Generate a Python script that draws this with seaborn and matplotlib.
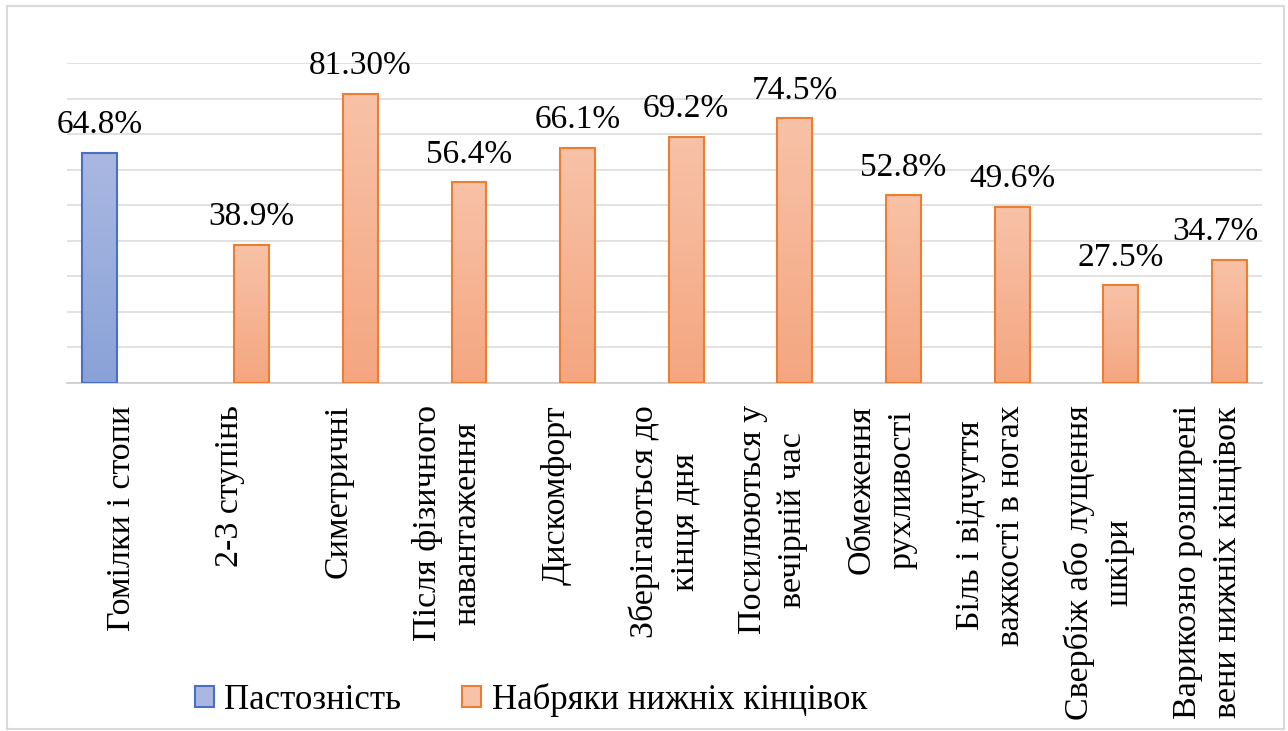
import numpy as np
import pandas as pd
import seaborn as sns
import matplotlib.pyplot as plt
from matplotlib.patches import Rectangle, Patch
from matplotlib.colors import LinearSegmentedColormap

# data
categories = [
    "Гомілки і стопи",
    "2-3 ступінь",
    "Симетричні",
    "Після фізичного\nнавантаження",
    "Дискомфорт",
    "Зберігаються до\nкінця дня",
    "Посилюються у\nвечірній час",
    "Обмеження\nрухливості",
    "Біль і відчуття\nважкості в ногах",
    "Свербіж або лущення\nшкіри",
    "Варикозно розширені\nвени нижніх кінцівок",
]
series = ["Пастозність"] + ["Набряки нижніх кінцівок"] * 10
values = [64.8, 38.9, 81.3, 56.4, 66.1, 69.2, 74.5, 52.8, 49.6, 27.5, 34.7]
value_labels = ["64.8%", "38.9%", "81.30%", "56.4%", "66.1%", "69.2%",
                "74.5%", "52.8%", "49.6%", "27.5%", "34.7%"]
series_names = ["Пастозність", "Набряки нижніх кінцівок"]

df = pd.DataFrame({"category": categories, "series": series, "value": values})

sns.set_theme(style="white")
plt.rcParams['font.family'] = ['Liberation Serif', 'DejaVu Serif']
plt.rcParams['text.color'] = 'black'

W, H = 1288, 731
fig = plt.figure(figsize=(W / 100, H / 100), dpi=100)
ax = fig.add_axes([67 / W, 1 - 383 / H, (1262 - 67) / W, (383 - 63) / H])

edge_colors = {"Пастозність": "#4A6FC7", "Набряки нижніх кінцівок": "#ED7D31"}
grad = {
    "Пастозність": ("#AAB8E1", "#8AA2D8"),
    "Набряки нижніх кінцівок": ("#F8C2A8", "#F4A680"),
}

sns.barplot(data=df, x="category", y="value", hue="series", hue_order=series_names,
            order=categories, width=0.8, gap=0.2, dodge=True, legend=False,
            palette=edge_colors, ax=ax, zorder=3)

# gradient fill for each bar
for cont, name in zip(ax.containers, series_names):
    top_c, bot_c = grad[name]
    cmap = LinearSegmentedColormap.from_list(name, [bot_c, top_c])
    for bar in cont:
        if np.isnan(bar.get_height()) or bar.get_height() == 0:
            continue
        x0, y0 = bar.get_x(), bar.get_y()
        w, h = bar.get_width(), bar.get_height()
        ax.imshow(np.linspace(0, 1, 100).reshape(-1, 1), cmap=cmap, origin="lower",
                  extent=[x0, x0 + w, y0, y0 + h], aspect="auto", zorder=2.5)
        bar.set_facecolor("none")
        bar.set_edgecolor(edge_colors[name])
        bar.set_linewidth(1.5)

# value labels
for i, (v, lab) in enumerate(zip(values, value_labels)):
    xpos = i - 0.2 if i == 0 else i + 0.2
    dx = -10 if i == len(values) - 1 else 0
    ax.annotate(lab, (xpos, v), xytext=(dx, 9), textcoords="offset points",
                ha="center", va="bottom", fontsize=24, color="black")

ax.set_xlim(-0.5, len(categories) - 0.5)
ax.set_ylim(0, 90)
ax.set_yticks(np.arange(0, 91, 10))
ax.set_yticklabels([])
ax.yaxis.grid(True, color="#D9D9D9", linewidth=1.1, zorder=0)
ax.set_axisbelow(True)
for s in ["left", "right", "top"]:
    ax.spines[s].set_visible(False)
ax.spines["bottom"].set_color("#D0D0D0")
ax.spines["bottom"].set_linewidth(1.3)
ax.tick_params(axis="y", length=0)
ax.tick_params(axis="x", length=0, pad=16)
ax.set_xlabel("")
ax.set_ylabel("")
for t in ax.get_xticklabels():
    t.set_rotation(90)
    t.set_fontsize(24.5)
    t.set_color("black")
    t.set_ha("center")
    t.set_va("top")
    t.set_multialignment("center")
    t.set_linespacing(1.4)

handles = [Patch(facecolor=grad[n][0], edgecolor=edge_colors[n], linewidth=1.5) for n in series_names]
fig.legend(handles, series_names, loc="center", bbox_to_anchor=(531 / W, 1 - 700 / H),
           ncol=2, frameon=False, fontsize=25, handlelength=0.55, handleheight=0.55,
           handletextpad=0.3, columnspacing=1.75, labelcolor="black")

fig.patches.append(Rectangle((7 / W, 2 / H), (1284 - 7) / W, (725 - 2) / H,
                             transform=fig.transFigure, fill=False,
                             edgecolor="#D9D9D9", linewidth=1.5))

fig.savefig("out.png", dpi=100)
